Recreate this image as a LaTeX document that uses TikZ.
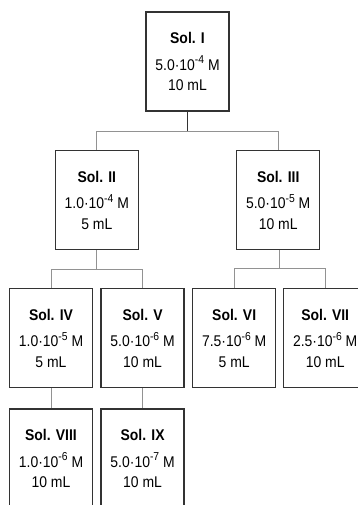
\documentclass[tikz,border=0pt]{standalone}
\usepackage{fontspec}
\setmainfont{Liberation Sans}[FakeStretch=0.9]
\usetikzlibrary{calc,positioning}
\definecolor{BoxEdge}{HTML}{333333}
\definecolor{LinkGray}{HTML}{929292}
\newcommand{\solexp}[1]{\raisebox{0.42em}{\fontsize{11.5}{11.5}\selectfont #1}}
\newcommand{\solinfo}[4]{{\bfseries Sol. #1}\\[6pt]#2·10\solexp{#3} M\\#4 mL}
\tikzset{
    solbox/.style={
        draw=BoxEdge,
        line width=1.3pt,
        minimum width=83pt,
        minimum height=99pt,
        inner sep=0pt,
        align=center,
        font=\fontsize{15.5}{20.5}\selectfont
    },
    link/.style={draw=LinkGray, line width=1pt},
    stem/.style={draw=BoxEdge, line width=1pt}
}

\begin{document}
\begin{tikzpicture}[x=1pt, y=1pt, node distance=7.3pt]
        \useasboundingbox (0,0) rectangle (357,-505);

        % third row
        \node[solbox] (s4) at (51,-338.3) {\solinfo{IV}{1.0}{-5}{5}};
        \node[solbox, right=of s4] (s5) {\solinfo{V}{5.0}{-6}{10}};
        \node[solbox, right=of s5] (s6) {\solinfo{VI}{7.5}{-6}{5}};
        \node[solbox, right=6.7pt of s6] (s7) {\solinfo{VII}{2.5}{-6}{10}};

        % last row
        \node[solbox, below=20pt of s4] (s8) {\solinfo{VIII}{1.0}{-6}{10}};
        \node[solbox, below=20pt of s5] (s9) {\solinfo{IX}{5.0}{-7}{10}};

        % upper rows
        \node[solbox] (s2) at ($(s4)!0.5!(s5)+(0,138.3)$) {\solinfo{II}{1.0}{-4}{5}};
        \node[solbox] (s3) at ($(s6)!0.5!(s7)+(-1.5,138.3)$) {\solinfo{III}{5.0}{-5}{10}};
        \node[solbox] (s1) at ($(s2)!0.5!(s3)+(0,138.5)$) {\solinfo{I}{5.0}{-4}{10}};

        \coordinate (j1) at ($(s1.south)+(0,-19.5)$);
        \coordinate (j2) at ($(s2.south)+(0,-19)$);
        \coordinate (j3) at ($(s3.south)+(1.5,-18.5)$);

        \draw[stem] (s1.south) -- (j1);
        \draw[link] (s2.north) |- (j1) -| (s3.north);
        \draw[link] (s2.south) -- (j2);
        \draw[link] (s4.north) |- (j2) -| (s5.north);
        \draw[link] (s3.south -| j3) -- (j3);
        \draw[link] (s6.north) |- (j3) -| (s7.north);
        \draw[link] (s4.south) -- (s8.north);
        \draw[link] (s5.south) -- (s9.north);
    \end{tikzpicture}
\end{document}
